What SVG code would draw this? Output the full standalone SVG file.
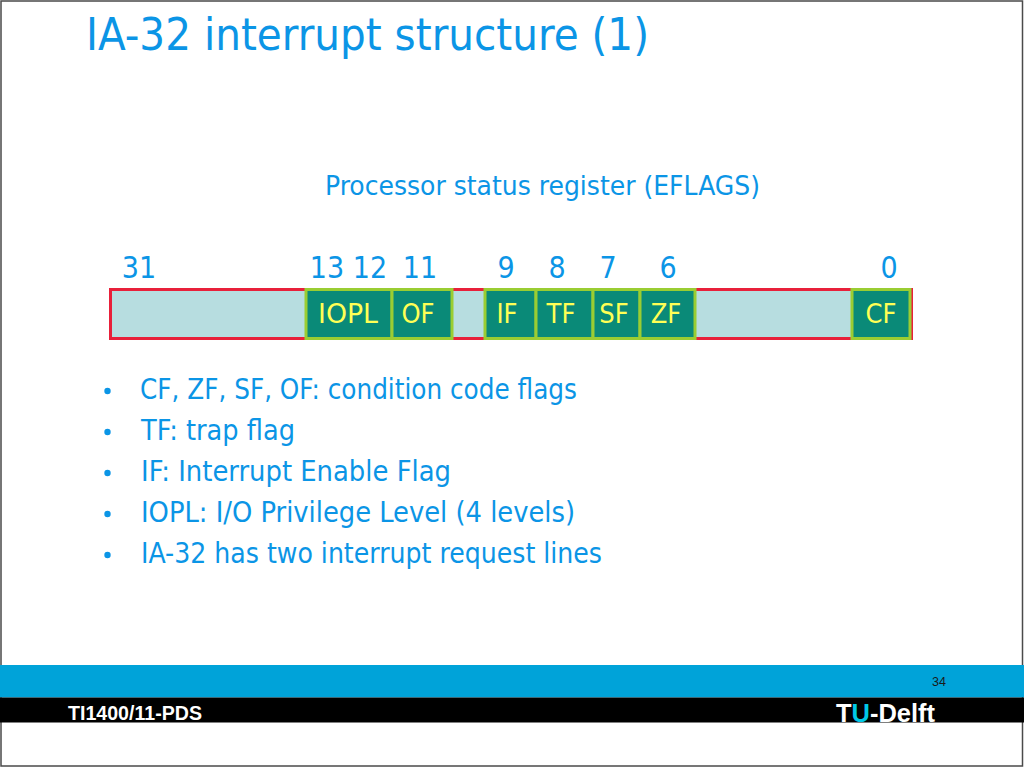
<svg xmlns="http://www.w3.org/2000/svg" width="1024" height="768" viewBox="0 0 1024 768">
<style>
.t{font-family:"DejaVu Sans Condensed","DejaVu Sans",sans-serif;fill:#0b95e6}
.num{font-size:30px;text-anchor:middle}
.flag rect{fill:#0a8a78;stroke:#9acd32;stroke-width:3}
.flag text{font-family:"DejaVu Sans Condensed","DejaVu Sans",sans-serif;font-size:27px;fill:#ffff55;text-anchor:middle}
.bul{font-size:28px}
.dot{fill:#0b95e6}
.ft{font-family:"Liberation Sans",Arial,sans-serif;font-weight:bold}
</style>
<rect x="0" y="0" width="1024" height="768" fill="#ffffff"/>
<rect x="1" y="1" width="1021.5" height="765" fill="none" stroke="#4a4a4a" stroke-width="1.5"/>

<text class="t" x="86" y="50" font-size="45" textLength="563" lengthAdjust="spacingAndGlyphs">IA-32 interrupt structure (1)</text>
<text class="t" x="325" y="195" font-size="26" textLength="435" lengthAdjust="spacingAndGlyphs">Processor status register (EFLAGS)</text>

<g id="bit-numbers">
<text class="t num" x="139" y="278">31</text>
<text class="t num" x="327" y="278">13</text>
<text class="t num" x="370" y="278">12</text>
<text class="t num" x="420" y="278">11</text>
<text class="t num" x="506" y="278">9</text>
<text class="t num" x="557" y="278">8</text>
<text class="t num" x="608" y="278">7</text>
<text class="t num" x="668" y="278">6</text>
<text class="t num" x="889" y="278">0</text>
</g>

<g id="register">
<rect x="110.5" y="289.5" width="801" height="49" fill="#b7dde0" stroke="#e8203a" stroke-width="3"/>
</g>
<g id="flag-IOPL" class="flag"><rect x="306" y="289.5" width="86" height="49"/><text x="348" y="323" textLength="60" lengthAdjust="spacingAndGlyphs">IOPL</text></g>
<g id="flag-OF" class="flag"><rect x="392" y="289.5" width="60" height="49"/><text x="418" y="323">OF</text></g>
<g id="flag-IF" class="flag"><rect x="485" y="289.5" width="51" height="49"/><text x="507" y="323">IF</text></g>
<g id="flag-TF" class="flag"><rect x="536" y="289.5" width="57" height="49"/><text x="561" y="323">TF</text></g>
<g id="flag-SF" class="flag"><rect x="593" y="289.5" width="47" height="49"/><text x="614" y="323">SF</text></g>
<g id="flag-ZF" class="flag"><rect x="640" y="289.5" width="55" height="49"/><text x="666" y="323">ZF</text></g>
<g id="flag-CF" class="flag"><rect x="852" y="289.5" width="58" height="49"/><text x="881" y="323">CF</text></g>

<g id="bullets">
<circle class="dot" cx="107.5" cy="391" r="3.2"/>
<circle class="dot" cx="107.5" cy="432" r="3.2"/>
<circle class="dot" cx="107.5" cy="473" r="3.2"/>
<circle class="dot" cx="107.5" cy="514" r="3.2"/>
<circle class="dot" cx="107.5" cy="555" r="3.2"/>
<text class="t bul" x="140" y="399" textLength="437" lengthAdjust="spacingAndGlyphs">CF, ZF, SF, OF: condition code flags</text>
<text class="t bul" x="141" y="440" textLength="154" lengthAdjust="spacingAndGlyphs">TF: trap flag</text>
<text class="t bul" x="141" y="481" textLength="310" lengthAdjust="spacingAndGlyphs">IF: Interrupt Enable Flag</text>
<text class="t bul" x="141" y="522" textLength="434" lengthAdjust="spacingAndGlyphs">IOPL: I/O Privilege Level (4 levels)</text>
<text class="t bul" x="141" y="563" textLength="461" lengthAdjust="spacingAndGlyphs">IA-32 has two interrupt request lines</text>
</g>

<g id="footer">
<rect x="0" y="665" width="1024" height="32.5" fill="#00a3d9"/>
<rect x="0" y="697.5" width="1024" height="25" fill="#000000"/>
<text x="932" y="686" font-family="'Liberation Sans Narrow','Liberation Sans',sans-serif" font-size="13" fill="#1a1a1a" textLength="14" lengthAdjust="spacingAndGlyphs">34</text>
<text class="ft" x="68" y="720" font-size="20" fill="#ffffff" textLength="134" lengthAdjust="spacingAndGlyphs">TI1400/11-PDS</text>
<text class="ft" x="836" y="722" font-size="25" fill="#ffffff" textLength="99" lengthAdjust="spacingAndGlyphs">T<tspan fill="#00c8e6">U</tspan>-Delft</text>
</g>
</svg>
